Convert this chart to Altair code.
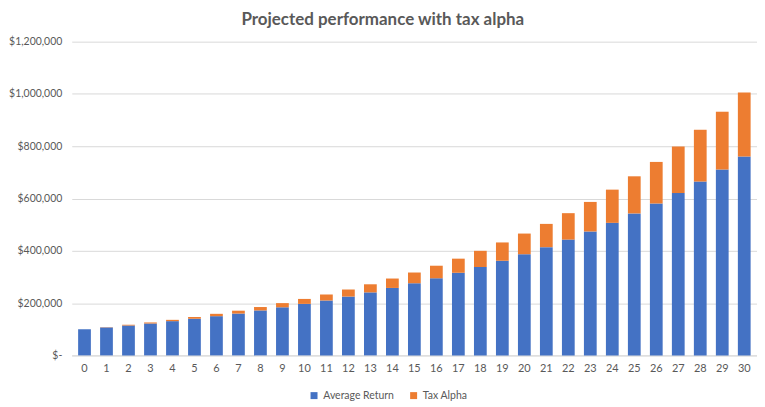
import altair as alt
import pandas as pd

years = list(range(31))
average_return = [100000, 107000, 114000, 122000, 131000, 140000, 150000, 160000, 172000, 184000,
                  197000, 210000, 225000, 241000, 258000, 276000, 295000, 316000, 338000, 362000,
                  387000, 414000, 443000, 474000, 507000, 543000, 581000, 621000, 665000, 711000, 761000]
tax_alpha = [0, 1000, 3000, 4000, 5000, 7000, 9000, 11000, 13000, 16000,
             19000, 23000, 27000, 31000, 36000, 41000, 48000, 54000, 62000, 70000,
             79000, 89000, 101000, 113000, 127000, 142000, 159000, 178000, 198000, 221000, 245000]
series_names = ["Average Return", "Tax Alpha"]
colors = ["#4472C4", "#ED7D31"]

rows = []
for i, y in enumerate(years):
    rows.append({"year": str(y), "series": series_names[0], "value": average_return[i], "ord": 0})
    rows.append({"year": str(y), "series": series_names[1], "value": tax_alpha[i], "ord": 1})
df = pd.DataFrame(rows)

font = "Lato"
text_color = "#595959"

chart = alt.Chart(df).mark_bar().encode(
    x=alt.X("year:N", sort=[str(y) for y in years],
            scale=alt.Scale(paddingInner=0.42, paddingOuter=0.29),
            axis=alt.Axis(title=None, labelAngle=0, ticks=False, domain=True,
                          domainColor="#D9D9D9", labelPadding=7, labelFontSize=11)),
    y=alt.Y("value:Q", stack="zero",
            scale=alt.Scale(domain=[0, 1200000], nice=False),
            axis=alt.Axis(title=None, values=[0, 200000, 400000, 600000, 800000, 1000000, 1200000],
                          ticks=False, domain=False, gridColor="#D9D9D9", labelPadding=10,
                          labelOverlap=False, labelBound=False, labelFontSize=10.5,
                          labelExpr="datum.value == 0 ? '$-' : '$' + format(datum.value, ',')")),
    color=alt.Color("series:N", sort=series_names,
                    scale=alt.Scale(domain=series_names, range=colors),
                    legend=alt.Legend(title=None, orient="none", direction="horizontal",
                                      legendX=238, legendY=350,
                                      symbolType="square", symbolSize=49, columnPadding=14,
                                      symbolStrokeWidth=0,
                                      labelFontSize=10.5, labelOffset=4)),
    order=alt.Order("ord:Q", sort="ascending"),
).properties(
    width=688, height=315,
    title=alt.TitleParams("Projected performance with tax alpha", fontSize=17, font=font,
                          fontWeight="bold", color=text_color, anchor="middle", offset=8,
                          frame="bounds"),
    padding={"left": 0, "top": 2, "right": 0, "bottom": 0},
    autosize="pad",
).configure_view(stroke=None).configure_axis(
    labelFont=font, labelColor=text_color
).configure_legend(labelFont=font, labelColor=text_color)

chart.save("out.html", embed_options={"renderer": "svg", "actions": False})
